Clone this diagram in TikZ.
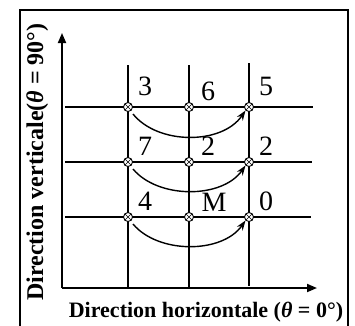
\documentclass[tikz,border=0pt]{standalone}
\usepackage{fontspec}
\setmainfont{Liberation Serif}
\usetikzlibrary{arrows.meta,calc}
\begin{document}
\begin{tikzpicture}[x=1pt,y=-1pt,
  frame/.style={line width=1.4pt},
  gridline/.style={line width=1.5pt},
  axis/.style={line width=1.8pt,-{Triangle[length=10pt,width=8pt]}},
  xnode/.style={circle,draw,fill=white,line width=0.9pt,minimum size=9pt,inner sep=0pt,
    path picture={\draw[line width=0.6pt] (path picture bounding box.north west)--(path picture bounding box.south east)
      (path picture bounding box.north east)--(path picture bounding box.south west);}},
  num/.style={inner sep=0pt,font=\fontsize{28}{28}\selectfont},
  jump/.style={line width=1.4pt,-{Stealth[length=10pt,width=7pt]}},
  hlabel/.style={inner sep=0pt,font=\bfseries\fontsize{22}{22}\selectfont},
  vlabel/.style={inner sep=0pt,font=\bfseries\fontsize{24}{24}\selectfont}]
\useasboundingbox (0,0) rectangle (355,325);
% frame
\coordinate (fbl) at (20,326);
\coordinate (ftl) at (20,10);
\coordinate (ftr) at (348,10);
\coordinate (fbr) at (348,326);
\draw[frame] (fbl) -- (ftl) -- (ftr) -- (fbr);
% axes
\coordinate (o) at (62,288);
\coordinate (ytip) at (62,33);
\coordinate (xtip) at (317,288);
\draw[axis] (o) -- (ytip);
\draw[axis] (o) -- (xtip);
% grid lines
\coordinate (v1t) at (128,65); \coordinate (v1b) at (128,288);
\coordinate (v2t) at (189,65); \coordinate (v2b) at (189,288);
\coordinate (v3t) at (249,63); \coordinate (v3b) at (249,286);
\coordinate (h1l) at (65,107); \coordinate (h1r) at (313,107);
\coordinate (h2l) at (65,162); \coordinate (h2r) at (312,162);
\coordinate (h3l) at (65,217); \coordinate (h3r) at (311,217);
\draw[gridline] (v1t) -- (v1b);
\draw[gridline] (v2t) -- (v2b);
\draw[gridline] (v3t) -- (v3b);
\draw[gridline] (h1l) -- (h1r);
\draw[gridline] (h2l) -- (h2r);
\draw[gridline] (h3l) -- (h3r);
% nodes
\node[xnode] (n11) at (128,107) {};
\node[xnode] (n12) at (189,107) {};
\node[xnode] (n13) at (249,107) {};
\node[xnode] (n21) at (128,162) {};
\node[xnode] (n22) at (189,162) {};
\node[xnode] (n23) at (249,162) {};
\node[xnode] (n31) at (128,217) {};
\node[xnode] (n32) at (189,217) {};
\node[xnode] (n33) at (249,217) {};
% arcs
\draw[jump] ($(n11)+(5,7)$) .. controls ($(n11)+(30,38)$) and ($(n13)+(-27,38)$) .. (n13.-135);
\draw[jump] ($(n21)+(5,7)$) .. controls ($(n21)+(30,37)$) and ($(n23)+(-27,37)$) .. (n23.-135);
\draw[jump] ($(n31)+(5,7)$) .. controls ($(n31)+(30,37)$) and ($(n33)+(-27,37)$) .. (n33.-135);
% numbers
\node[num] (l3) at (145,86) {3};
\node[num] (l6) at (208,91) {6};
\node[num] (l5) at (266,86) {5};
\node[num] (l7) at (145,146) {7};
\node[num] (l2a) at (208,146) {2};
\node[num] (l2b) at (266,146) {2};
\node[num] (l4) at (145,201) {4};
\node[num] (lM) at (214,202) {M};
\node[num] (l0) at (266,201) {0};
% axis labels
\node[hlabel,anchor=base] (hx) at (206,317) {Direction horizontale (\textit{θ} = 0°)};
\node[vlabel,anchor=base,rotate=90] (vy) at (43,162) {Direction verticale(\textit{θ} = 90°)};
\end{tikzpicture}
\end{document}
